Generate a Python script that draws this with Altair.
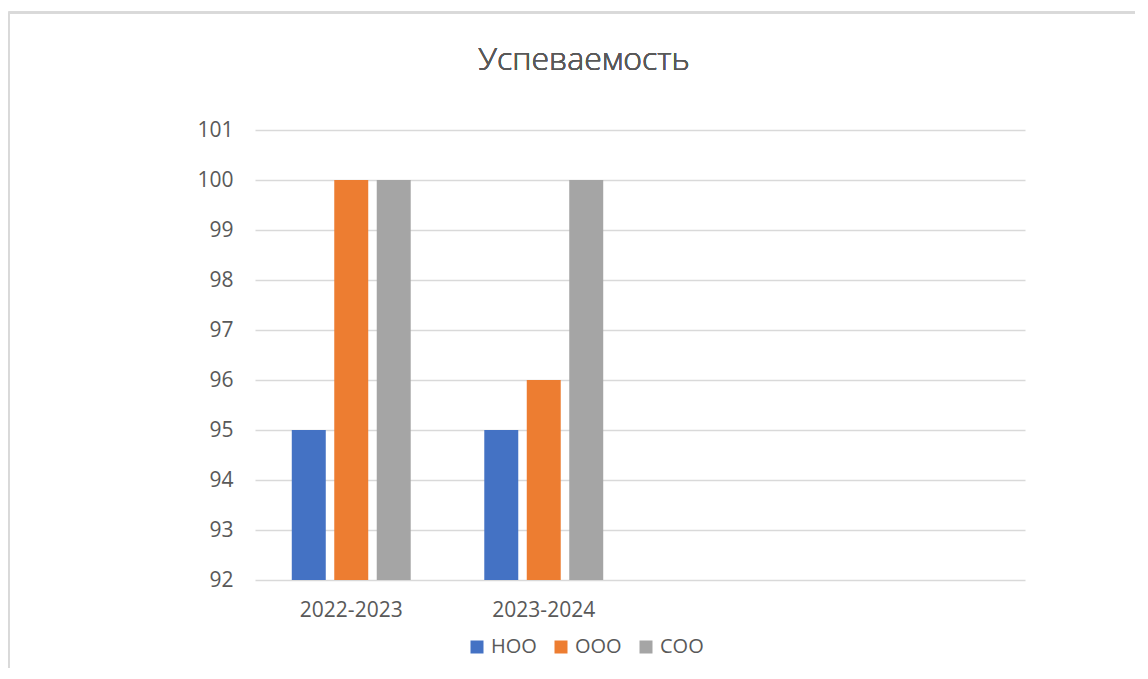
import altair as alt
import pandas as pd

categories = ["2022-2023", "2023-2024", " ", "  "]
series = ["НОО", "ООО", "СОО"]
noo = [95, 95]
ooo = [100, 96]
soo = [100, 100]
colors = ["#4472C4", "#ED7D31", "#A5A5A5"]
title_text = "Успеваемость"

rows = []
for i, cat in enumerate(categories[:2]):
    for s, vals in zip(series, [noo, ooo, soo]):
        rows.append({"cat": cat, "series": s, "value": vals[i]})
df = pd.DataFrame(rows)

FONT = "Open Sans"
TXT = "#595959"
GRID = "#D9D9D9"

bars = alt.Chart(df).mark_bar().encode(
    x=alt.X("cat:N", sort=categories,
            scale=alt.Scale(domain=categories, paddingInner=0.338, paddingOuter=0.169),
            axis=alt.Axis(title=None, labelAngle=0, ticks=False, domain=False,
                          labelFontSize=21, labelColor=TXT, labelFont=FONT,
                          labelPadding=19, grid=False)),
    xOffset=alt.XOffset("series:N", sort=series,
                        scale=alt.Scale(paddingInner=0.2, paddingOuter=0.1)),
    y=alt.Y("value:Q",
            scale=alt.Scale(domain=[92, 101], zero=False, nice=False),
            axis=alt.Axis(title=None, values=list(range(92, 102)), ticks=False,
                          domain=False, gridColor=GRID, gridWidth=1.5,
                          labelFontSize=21, labelColor=TXT, labelFont=FONT,
                          labelPadding=22)),
    y2=alt.datum(92),
    color=alt.Color("series:N", sort=series,
                    scale=alt.Scale(domain=series, range=colors),
                    legend=alt.Legend(title=None, orient="none", direction="horizontal",
                                      legendX=212, legendY=507,
                                      symbolType="square", symbolSize=169,
                                      symbolStrokeWidth=0,
                                      labelFontSize=20, labelColor=TXT, labelFont=FONT,
                                      labelOffset=4, columnPadding=14)),
)

frame_top = alt.Chart(df).mark_rule(color=GRID, strokeWidth=2).encode(
    x=alt.value(-246.5), x2=alt.value(900), y=alt.value(-117.5))
frame_left = alt.Chart(df).mark_rule(color=GRID, strokeWidth=2).encode(
    x=alt.value(-246.5), y=alt.value(-117.5), y2=alt.value(560))

title = alt.Chart(df).mark_text(
    font=FONT, fontSize=32, fontWeight=300, color=TXT, align="center", baseline="middle"
).encode(x=alt.value(329), y=alt.value(-70), text=alt.value(title_text))

chart = alt.layer(frame_top, frame_left, bars, title).properties(
    width=770, height=450,
    background="white",
    autosize=alt.AutoSizeParams(type="none"),
    padding={"left": 247, "top": 122, "right": 110, "bottom": 88},
).configure_view(strokeWidth=0, stroke=None)

chart.save("out.html", embed_options={"renderer": "svg", "actions": False})
